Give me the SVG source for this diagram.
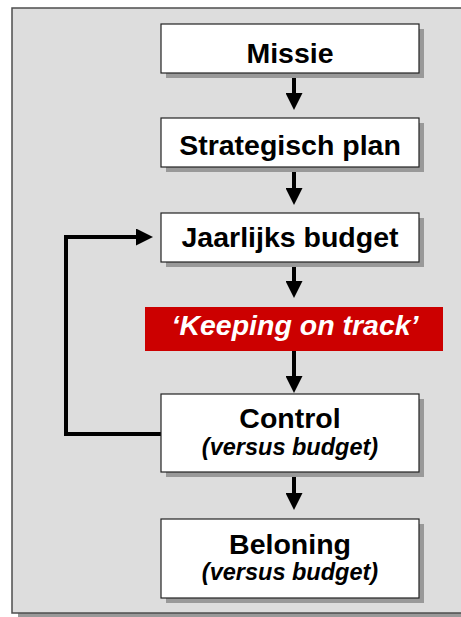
<svg xmlns="http://www.w3.org/2000/svg" width="461" height="617" viewBox="0 0 461 617">
<defs>
<style>
.shadow{fill:#999999}
.box{fill:#ffffff;stroke:#222222;stroke-width:1.2}
.h{font-family:"Liberation Sans",Arial,sans-serif;font-weight:bold;font-size:28.5px;fill:#000;text-anchor:middle}
.s{font-family:"Liberation Sans",Arial,sans-serif;font-weight:bold;font-style:italic;font-size:23.5px;fill:#000;text-anchor:middle}
.k{font-family:"Liberation Sans",Arial,sans-serif;font-weight:bold;font-style:italic;font-size:28.5px;fill:#fff;text-anchor:middle}
.conn{stroke:#000;stroke-width:4;fill:none}
</style>
<marker id="ah" markerUnits="userSpaceOnUse" markerWidth="17" markerHeight="17" viewBox="0 0 17 17" refX="0" refY="8.5" orient="auto">
<path d="M0,0 L17,8.5 L0,17 z" fill="#000"/>
</marker>
</defs>
<g id="frame">
<rect x="18" y="14" width="460" height="605" class="shadow"/>
<rect x="12" y="8" width="460" height="605" fill="#dddddd" stroke="#4d4d4d" stroke-width="1.5"/>
</g>
<g id="connectors">
<line x1="294" y1="73" x2="294" y2="93" class="conn" marker-end="url(#ah)"/>
<line x1="294" y1="167" x2="294" y2="188" class="conn" marker-end="url(#ah)"/>
<line x1="294" y1="262" x2="294" y2="281" class="conn" marker-end="url(#ah)"/>
<line x1="294" y1="351" x2="294" y2="376" class="conn" marker-end="url(#ah)"/>
<line x1="294" y1="472" x2="294" y2="493" class="conn" marker-end="url(#ah)"/>
<path d="M161,434 H66 V237 H136" class="conn" marker-end="url(#ah)"/>
</g>
<g id="missie">
<rect x="166" y="29" width="258" height="49" class="shadow"/>
<rect x="161" y="24" width="258" height="49" class="box"/>
<text x="290" y="63" class="h">Missie</text>
</g>
<g id="strategisch-plan">
<rect x="166" y="123" width="258" height="49" class="shadow"/>
<rect x="161" y="118" width="258" height="49" class="box"/>
<text x="290" y="155" class="h">Strategisch plan</text>
</g>
<g id="jaarlijks-budget">
<rect x="166" y="218" width="258" height="49" class="shadow"/>
<rect x="161" y="213" width="258" height="49" class="box"/>
<text x="290" y="247" class="h">Jaarlijks budget</text>
</g>
<g id="keeping-on-track">
<rect x="145" y="307" width="298" height="44" fill="#cc0000"/>
<text x="295" y="335" class="k">‘Keeping on track’</text>
</g>
<g id="control">
<rect x="166" y="399" width="258" height="78" class="shadow"/>
<rect x="161" y="394" width="258" height="78" class="box"/>
<text x="290" y="428" class="h">Control</text>
<text x="290" y="455" class="s">(versus budget)</text>
</g>
<g id="beloning">
<rect x="166" y="524" width="258" height="79" class="shadow"/>
<rect x="161" y="519" width="258" height="79" class="box"/>
<text x="290" y="554" class="h">Beloning</text>
<text x="290" y="580" class="s">(versus budget)</text>
</g>
</svg>
